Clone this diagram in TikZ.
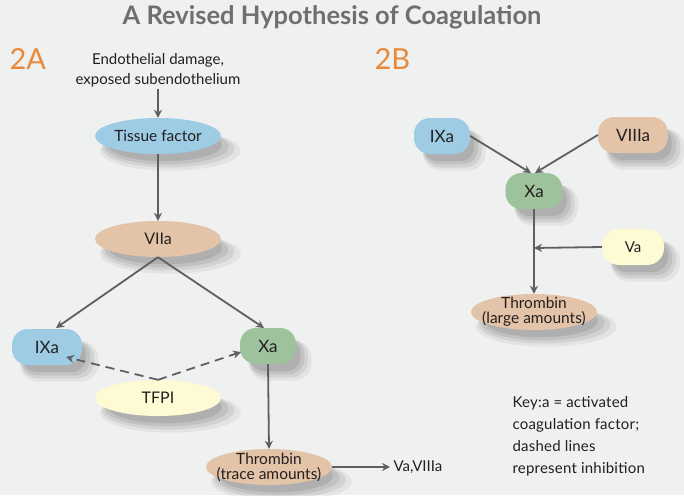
\documentclass[tikz,border=0pt]{standalone}
\usepackage{fontspec}
\setmainfont{Lato}
\usetikzlibrary{shapes.geometric,arrows.meta,shadows}
\definecolor{bg}{HTML}{EFF0F0}
\definecolor{ttl}{HTML}{6E6F71}
\definecolor{org}{HTML}{E8893A}
\definecolor{cblue}{HTML}{9DCCE4}
\definecolor{ctan}{HTML}{E4C4A8}
\definecolor{cgreen}{HTML}{9EC29B}
\definecolor{cyel}{HTML}{FDFAD4}
\definecolor{lnc}{HTML}{5E5F61}
\definecolor{txt}{HTML}{231F20}
\tikzset{
  x=1pt,y=-1pt,
  shade/.style={
    general shadow={shadow xshift=11pt,shadow yshift=-13pt,shadow scale=1.12,fill=black,fill opacity=0.05},
    general shadow={shadow xshift=10pt,shadow yshift=-12pt,shadow scale=1.05,fill=black,fill opacity=0.07},
    general shadow={shadow xshift=9pt,shadow yshift=-11pt,shadow scale=0.98,fill=black,fill opacity=0.08},
    general shadow={shadow xshift=8pt,shadow yshift=-10pt,shadow scale=0.9,fill=black,fill opacity=0.09}},
  ell/.style={ellipse,inner xsep=-30pt,inner ysep=-6pt,minimum width=126pt,minimum height=36pt,shade,text=txt,font=\fontsize{16}{16}\selectfont},
  rbox/.style={rectangle,rounded corners=16pt,inner sep=0pt,minimum height=36pt,shade,text=txt,font=\fontsize{17}{17}\selectfont},
  conn/.style={draw=lnc,line width=1.8pt,-{Stealth[length=8pt,width=8pt]}},
  dconn/.style={conn,dash pattern=on 9pt off 6pt},
  lab/.style={text=org,font=\fontsize{29}{29}\selectfont,anchor=west}
}
\begin{document}
\begin{tikzpicture}
\fill[bg] (0,0) rectangle (684,495);
\useasboundingbox (0,0) rectangle (684,495);
\node[text=ttl,font=\bfseries\fontsize{25.5}{25.5}\selectfont] (title) at (332,17) {A Revised Hypothesis of Coagulation};
\node[lab] (l2a) at (6,59) {2A};
\node[lab] (l2b) at (371,59) {2B};
% 2A
\node[align=center,text=txt,font=\fontsize{15}{20}\selectfont] (endo) at (158,70) {Endothelial damage,\\exposed subendothelium};
\node[ell,fill=cblue,font=\fontsize{15.5}{15}\selectfont] (tf) at (158,136) {Tissue factor};
\node[ell,fill=ctan] (vii) at (158,239) {VIIa};
\node[rbox,fill=cblue,minimum width=70pt] (ixa) at (47,347) {IXa};
\node[rbox,fill=cgreen,minimum width=56pt] (xa) at (268,346) {Xa};
\node[ell,fill=cyel] (tfpi) at (158,398) {TFPI};
\node[ell,fill=ctan,align=center,font=\fontsize{15.5}{15}\selectfont] (thr) at (269,467) {Thrombin\\(trace amounts)};
\node[anchor=west,text=txt,font=\fontsize{15}{15}\selectfont] (vav) at (390,467) {Va,VIIIa};
\draw[conn] (158,89) -- (tf.north);
\draw[conn] (tf.south) -- (vii.north);
\draw[conn] (vii.south) -- (56,328);
\draw[conn] (vii.south) -- (264,328);
\draw[dconn] (tfpi.north) -- (66,357);
\draw[dconn] (tfpi.north) -- (241,352);
\draw[conn] (xa.south) -- (thr.north);
\draw[conn] (thr.east) -- (vav.west);
% 2B
\node[rbox,fill=cblue,minimum width=56pt] (ixb) at (442,136) {IXa};
\node[rbox,fill=ctan,minimum width=70pt] (viii) at (633,135) {VIIIa};
\node[rbox,fill=cgreen,minimum width=57pt] (xb) at (534,191) {Xa};
\node[rbox,fill=cyel,minimum width=62pt,rounded corners=17pt,font=\fontsize{15}{15}\selectfont] (va) at (633,247) {Va};
\node[ell,fill=ctan,align=center,font=\fontsize{15.5}{15}\selectfont] (thb) at (534,312) {Thrombin\\(large amounts)};
\coordinate (vj) at (534,248);
\draw[conn] (ixb.east) -- (531,173);
\draw[conn] (viii.west) -- (535,173);
\draw[conn] (xb.south) -- (thb.north);
\draw[conn] (va.west) -- (vj);
% key
\node[anchor=north west,align=left,text=txt,font=\addfontfeatures{LetterSpace=1.5}\fontsize{15}{22}\selectfont] (key) at (509,393) {Key:a = activated\\coagulation factor;\\dashed lines\\represent inhibition};
\end{tikzpicture}
\end{document}
